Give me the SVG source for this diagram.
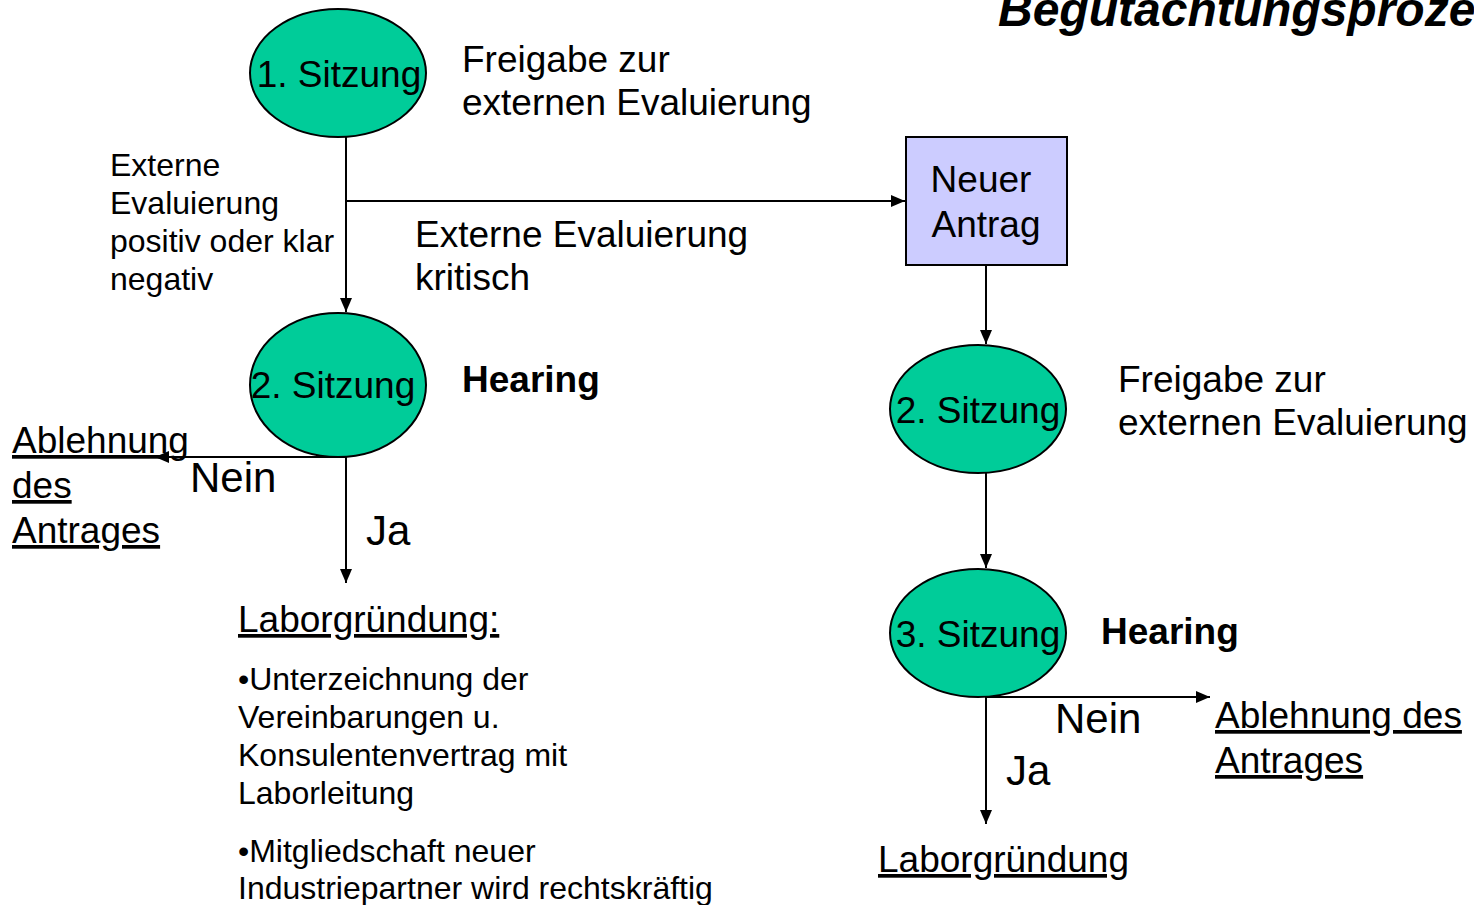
<svg xmlns="http://www.w3.org/2000/svg" width="1474" height="905" viewBox="0 0 1474 905">
<defs>
<marker id="ah" viewBox="0 0 14 12" refX="14" refY="6" markerWidth="14" markerHeight="12" markerUnits="userSpaceOnUse" orient="auto">
<path d="M0,0 L14,6 L0,12 Z" fill="#000"/>
</marker>
<style>
text{font-family:"Liberation Sans",Arial,sans-serif;fill:#000}
.big{font-size:37px}
.mid{font-size:32px}
.lbl{font-size:42px}
.b{font-weight:bold}
.u{text-decoration:underline}
.sit{fill:#00CC99;stroke:#000;stroke-width:2}
.box{fill:#CCCCFF;stroke:#000;stroke-width:2}
.con{stroke:#000;stroke-width:2;fill:none}
.arr{marker-end:url(#ah)}
</style>
</defs>
<rect width="1474" height="905" fill="#fff"/>
<text x="998" y="26" font-size="48" font-weight="bold" font-style="italic">Begutachtungsproze</text>

<g id="connectors">
<path class="con arr" d="M346,137 L346,312"/>
<path class="con arr" d="M346,201 L905,201"/>
<path class="con arr" d="M346,457 L155,457"/>
<path class="con arr" d="M346,457 L346,583"/>
<path class="con arr" d="M986,265 L986,344"/>
<path class="con arr" d="M986,473 L986,568"/>
<path class="con arr" d="M986,697 L1210,697"/>
<path class="con arr" d="M986,697 L986,824"/>
</g>

<g id="sitzung1">
<ellipse class="sit" cx="338" cy="73" rx="88" ry="64"/>
<text class="big" x="339" y="87" text-anchor="middle">1. Sitzung</text>
</g>
<g id="label-freigabe1">
<text class="big" x="462" y="72">Freigabe zur</text>
<text class="big" x="462" y="115">externen Evaluierung</text>
</g>
<g id="label-positiv">
<text class="mid" x="110" y="176">Externe</text>
<text class="mid" x="110" y="214">Evaluierung</text>
<text class="mid" x="110" y="252">positiv oder klar</text>
<text class="mid" x="110" y="290">negativ</text>
</g>
<g id="label-kritisch">
<text class="big" x="415" y="247">Externe Evaluierung</text>
<text class="big" x="415" y="290">kritisch</text>
</g>
<g id="neuer-antrag">
<rect class="box" x="906" y="137" width="161" height="128"/>
<text class="big" x="981" y="192" text-anchor="middle">Neuer</text>
<text class="big" x="986" y="237" text-anchor="middle">Antrag</text>
</g>
<g id="sitzung2-left">
<ellipse class="sit" cx="338" cy="385" rx="88" ry="72"/>
<text class="big" x="333" y="398" text-anchor="middle">2. Sitzung</text>
</g>
<g id="hearing-left">
<text class="big b" x="462" y="392">Hearing</text>
</g>
<g id="ablehnung-left">
<text class="big u" x="12" y="453">Ablehnung</text>
<text class="big u" x="12" y="498">des</text>
<text class="big u" x="12" y="543">Antrages</text>
</g>
<text class="lbl" x="190" y="492">Nein</text>
<text class="lbl" x="366" y="545">Ja</text>
<g id="laborgruendung-left">
<text class="big u" x="238" y="632">Laborgründung:</text>
<text class="mid" x="238" y="690">•Unterzeichnung der</text>
<text class="mid" x="238" y="728">Vereinbarungen u.</text>
<text class="mid" x="238" y="766">Konsulentenvertrag mit</text>
<text class="mid" x="238" y="804">Laborleitung</text>
<text class="mid" x="238" y="862">•Mitgliedschaft neuer</text>
<text class="mid" x="238" y="899">Industriepartner wird rechtskräftig</text>
</g>
<g id="sitzung2-right">
<ellipse class="sit" cx="978" cy="409" rx="88" ry="64"/>
<text class="big" x="978" y="423" text-anchor="middle">2. Sitzung</text>
</g>
<g id="label-freigabe2">
<text class="big" x="1118" y="392">Freigabe zur</text>
<text class="big" x="1118" y="435">externen Evaluierung</text>
</g>
<g id="sitzung3">
<ellipse class="sit" cx="978" cy="633" rx="88" ry="64"/>
<text class="big" x="978" y="647" text-anchor="middle">3. Sitzung</text>
</g>
<g id="hearing-right">
<text class="big b" x="1101" y="644">Hearing</text>
</g>
<text class="lbl" x="1055" y="733">Nein</text>
<text class="lbl" x="1006" y="785">Ja</text>
<g id="ablehnung-right">
<text class="big u" x="1215" y="728">Ablehnung des</text>
<text class="big u" x="1215" y="773">Antrages</text>
</g>
<g id="laborgruendung-right">
<text class="big u" x="878" y="872">Laborgründung</text>
</g>
</svg>
